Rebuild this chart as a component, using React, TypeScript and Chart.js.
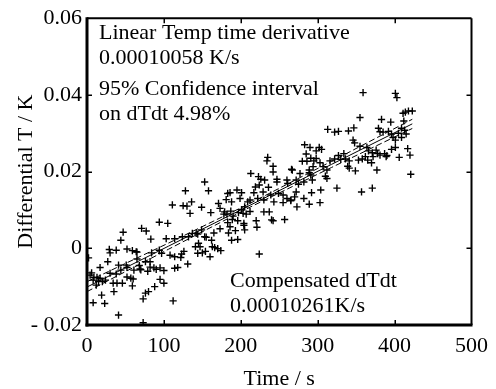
import React, { useEffect, useRef } from "react";
import { Chart, registerables } from "chart.js";

Chart.register(...registerables);

// Measured points: time (s) and differential temperature (K)
const timeS = [
  128, 136, 111, 125, 130, 134, 94, 105, 71, 77, 47, 44, 83, 103, 114, 124, 132, 137, 142, 149,
  2, 29, 30, 38, 52, 59, 64, 65, 65, 84, 94, 97, 108, 114, 122, 144,
  17, 27, 6, 9, 13, 17, 20, 24, 12, 41, 51, 44, 52, 61, 68, 69, 30, 38, 34, 39, 46, 52, 57, 60, 59,
  76, 82, 82, 87, 95, 70, 79, 95, 100, 114, 118, 131,
  8, 23, 19, 35, 41, 73, 76, 80, 88, 112, 73,
  4, 8, 15, 90, 100, 123, 126, 141, 154, 166,
  283, 285, 291, 295, 298, 280, 286, 235, 234, 242, 266, 213, 289, 294, 153, 158, 226, 224, 219,
  247, 247, 260, 261, 272, 275, 282, 293, 186, 195, 201, 199, 181, 171, 188, 217, 229, 236, 239,
  249, 255, 260, 270, 272, 209, 212, 222, 230, 243, 255, 265, 282, 149, 161, 173, 179, 187, 190,
  197, 201, 207, 212, 230, 237, 240, 257, 220, 221, 204, 193, 196, 186, 173, 165, 153, 155, 145,
  147, 163, 170, 174, 160, 224, 150, 289, 273, 265, 204, 303, 357, 223, 231, 242, 267, 277, 289,
  183, 182,
  144, 162, 188, 184, 205, 178, 189, 183, 196, 203, 205, 242,
  359, 401, 403, 355, 411, 414, 418, 423, 383, 395, 412, 313, 322, 327, 340, 347, 379, 381, 385,
  392, 396, 405, 409, 413, 415, 409, 398, 401, 346, 348, 355, 364, 366, 371, 376, 381, 389, 396,
  401, 417, 420, 406, 421, 290, 302, 305, 298, 303, 307, 312, 310, 312, 291, 316, 322, 327, 330,
  334, 336, 341, 339, 341, 349, 353, 358, 362, 365, 370, 372, 378, 377, 387, 390, 325, 371, 292, 304,
];

const dT = [
  0.0150, 0.0121, 0.0113, 0.0111, 0.0110, 0.0091, 0.0068, 0.0065, 0.0052, 0.0045, 0.0042, 0.0021, 0.0024, 0.0025, 0.0025, 0.0030, 0.0030, 0.0039, 0.0039, 0.0048,
  -0.0025, -0.0003, -0.0012, -0.0005, -0.0002, -0.0006, -0.0009, -0.0010, -0.0028, -0.0012, -0.0005, -0.0013, -0.0018, -0.0022, -0.0024, -0.0013,
  -0.0050, -0.0035, -0.0064, -0.0076, -0.0076, -0.0078, -0.0087, -0.0083, -0.0096, -0.0044, -0.0044, -0.0057, -0.0050, -0.0057, -0.0045, -0.0054, -0.0065, -0.0067, -0.0091, -0.0091, -0.0091, -0.0075, -0.0078, -0.0080, -0.0098,
  -0.0035, -0.0035, -0.0049, -0.0051, -0.0051, -0.0056, -0.0060, -0.0081, -0.0091, -0.0052, -0.0050, -0.0041,
  -0.0142, -0.0144, -0.0122, -0.0113, -0.0174, -0.0132, -0.0117, -0.0113, -0.0100, -0.0137, -0.0194,
  -0.0070, -0.0083, -0.0086, -0.0055, -0.0058, -0.0015, -0.0008, 0.0004, -0.0008, 0.0002,
  0.0270, 0.0246, 0.0235, 0.0228, 0.0254, 0.0227, 0.0227, 0.0237, 0.0228, 0.0214, 0.0206, 0.0195, 0.0204, 0.0213, 0.0173, 0.0150, 0.0180, 0.0165, 0.0160,
  0.0180, 0.0173, 0.0178, 0.0169, 0.0178, 0.0167, 0.0173, 0.0178, 0.0145, 0.0152, 0.0145, 0.0130, 0.0127, 0.0117, 0.0121, 0.0145, 0.0147, 0.0159, 0.0139,
  0.0143, 0.0139, 0.0130, 0.0134, 0.0147, 0.0121, 0.0126, 0.0130, 0.0126, 0.0121, 0.0119, 0.0126, 0.0130, 0.0107, 0.0093, 0.0104, 0.0095, 0.0097, 0.0084,
  0.0093, 0.0101, 0.0089, 0.0096, 0.0095, 0.0095, 0.0074, 0.0075, 0.0072, 0.0055, 0.0060, 0.0046, 0.0023, 0.0056, 0.0051, 0.0040, 0.0030, 0.0029, 0.0013,
  0.0004, 0.0004, -0.0001, -0.0006, -0.0022, -0.0015, -0.0012, 0.0115, 0.0108, 0.0124, 0.0065, 0.0119, 0.0147, 0.0187, 0.0178, 0.0199, 0.0204, 0.0195, 0.0197,
  0.0143, 0.0089,
  0.0037, 0.0021, 0.0021, 0.0040, 0.0048, 0.0089, 0.0075, 0.0067, 0.0072, 0.0091, 0.0108, 0.0072,
  0.0406, 0.0404, 0.0393, 0.0341, 0.0352, 0.0355, 0.0358, 0.0358, 0.0336, 0.0329, 0.0332, 0.0310, 0.0303, 0.0305, 0.0306, 0.0314, 0.0313, 0.0304, 0.0303,
  0.0305, 0.0298, 0.0300, 0.0313, 0.0308, 0.0298, 0.0289, 0.0289, 0.0282, 0.0282, 0.0275, 0.0266, 0.0263, 0.0254, 0.0249, 0.0256, 0.0243, 0.0239, 0.0258,
  0.0263, 0.0260, 0.0243, 0.0237, 0.0193, 0.0263, 0.0263, 0.0258, 0.0234, 0.0223, 0.0213, 0.0204, 0.0188, 0.0182, 0.0191, 0.0228, 0.0233, 0.0242, 0.0232,
  0.0247, 0.0233, 0.0228, 0.0214, 0.0209, 0.0202, 0.0230, 0.0233, 0.0239, 0.0230, 0.0223, 0.0239, 0.0247, 0.0204, 0.0247, 0.0242, 0.0157, 0.0157, 0.0145, 0.0152,
];

// Linear fit and its 95% confidence band
const fitT = [0, 106, 212, 318, 423];
const fitMid = [-0.0101, 0.00056, 0.01122, 0.02188, 0.03245];
const fitUpper = [-0.0087, 0.00136, 0.01172, 0.02268, 0.03365];
const fitLower = [-0.0113, -0.00024, 0.01072, 0.02108, 0.03125];

const xTicks = [0, 100, 200, 300, 400, 500];
const xTickLabels = ["0", "100", "200", "300", "400", "500"];
const yTicks = [-0.02, 0, 0.02, 0.04, 0.06];
const yTickLabels = ["- 0.02", "0", "0.02", "0.04", "0.06"];

const FONT = "'Liberation Serif', 'Times New Roman', Times, serif";

const framePlugin = {
  id: "frame",
  afterDraw(chart: any) {
    const { ctx, chartArea: a, scales } = chart;
    ctx.save();
    ctx.strokeStyle = "#000";
    const line = (x1: number, y1: number, x2: number, y2: number) => {
      ctx.beginPath();
      ctx.moveTo(x1, y1);
      ctx.lineTo(x2, y2);
      ctx.stroke();
    };
    ctx.lineWidth = 1.5;
    for (const v of xTicks.slice(1, -1)) {
      const px = Math.round(scales.x.getPixelForValue(v)) + 0.25;
      line(px, a.bottom, px, a.bottom - 5);
      line(px, a.top, px, a.top + 5);
    }
    for (const v of yTicks.slice(1, -1)) {
      const py = Math.round(scales.y.getPixelForValue(v)) + 0.25;
      line(a.left, py, a.left + 5, py);
      line(a.right, py, a.right - 5, py);
    }
    ctx.lineWidth = 2;
    line(a.left, a.top, a.right, a.top);
    line(a.right, a.top, a.right, a.bottom);
    ctx.lineWidth = 3;
    line(a.left, a.top - 1, a.left, a.bottom + 1.5);
    line(a.left - 1.5, a.bottom, a.right + 1, a.bottom);

    ctx.fillStyle = "#000";
    ctx.font = `22px ${FONT}`;
    ctx.textAlign = "left";
    ctx.textBaseline = "alphabetic";
    const L = a.left + 12;
    ctx.fillText("Linear Temp time derivative", L, a.top + 21);
    ctx.fillText("0.00010058 K/s", L, a.top + 46);
    ctx.fillText("95% Confidence interval", L, a.top + 77);
    ctx.fillText("on dTdt 4.98%", L, a.top + 102);
    const L2 = a.left + 143;
    ctx.fillText("Compensated dTdt", L2, a.bottom - 38);
    ctx.fillText("0.00010261K/s", L2, a.bottom - 13);
    ctx.restore();
  },
};

export default function App() {
  const ref = useRef<HTMLCanvasElement | null>(null);

  useEffect(() => {
    if (!ref.current) return;
    const pts = timeS.map((t, i) => ({ x: t, y: dT[i] }));
    const fit = (ys: number[]) => fitT.map((t, i) => ({ x: t, y: ys[i] }));
    const chart = new Chart(ref.current, {
      type: "scatter",
      data: {
        datasets: [
          {
            data: pts,
            pointStyle: "cross",
            pointRadius: 3.6,
            pointBorderWidth: 1.4,
            borderColor: "#000",
            backgroundColor: "#000",
            showLine: false,
          },
          {
            data: fit(fitMid),
            showLine: true,
            borderColor: "#000",
            borderWidth: 1,
            pointRadius: 0,
          },
          {
            data: fit(fitUpper),
            showLine: true,
            borderColor: "#000",
            borderWidth: 1,
            borderDash: [6, 3],
            pointRadius: 0,
          },
          {
            data: fit(fitLower),
            showLine: true,
            borderColor: "#000",
            borderWidth: 1,
            borderDash: [6, 3],
            pointRadius: 0,
          },
        ],
      } as any,
      options: {
        animation: false,
        responsive: false,
        events: [],
        layout: { padding: { top: 18, right: 20, bottom: 0, left: 0 } },
        plugins: { legend: { display: false }, tooltip: { enabled: false } },
        scales: {
          x: {
            type: "linear",
            min: 0,
            max: 500,
            afterBuildTicks: (s: any) => {
              s.ticks = xTicks.map((v) => ({ value: v }));
            },
            afterFit: (s: any) => {
              s.height = 64;
            },
            ticks: {
              callback: (_v: any, i: number) => xTickLabels[i],
              color: "#000",
              font: { family: FONT, size: 22 },
              padding: 8,
              maxRotation: 0,
              autoSkip: false,
            },
            grid: { display: false, drawTicks: false },
            border: { display: false },
            title: {
              display: true,
              text: "Time / s",
              color: "#000",
              font: { family: FONT, size: 22 },
              padding: { top: 0, bottom: -3 },
            },
          },
          y: {
            type: "linear",
            min: -0.02,
            max: 0.06,
            afterBuildTicks: (s: any) => {
              s.ticks = yTicks.map((v) => ({ value: v }));
            },
            afterFit: (s: any) => {
              s.width = 87;
            },
            ticks: {
              callback: (_v: any, i: number) => yTickLabels[i],
              color: "#000",
              font: { family: FONT, size: 22 },
              padding: 5,
              autoSkip: false,
            },
            grid: { display: false, drawTicks: false },
            border: { display: false },
            title: {
              display: true,
              text: "Differential T / K",
              color: "#000",
              font: { family: FONT, size: 22 },
              padding: { top: 13, bottom: 0 },
            },
          },
        },
      } as any,
      plugins: [framePlugin],
    });
    return () => chart.destroy();
  }, []);

  return (
    <div style={{ position: "fixed", left: 0, top: 0, width: 496, height: 389, background: "#fff" }}>
      <canvas ref={ref} width={496} height={389} style={{ display: "block" }} />
    </div>
  );
}
